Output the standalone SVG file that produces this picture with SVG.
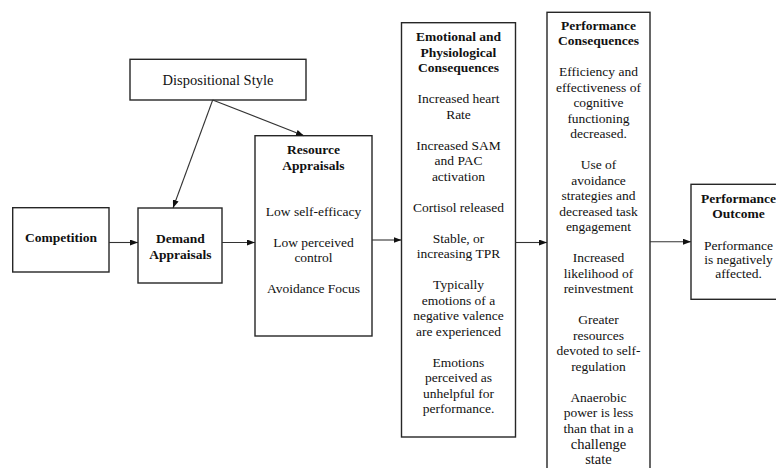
<svg xmlns="http://www.w3.org/2000/svg" width="776" height="468" viewBox="0 0 776 468">
  <style>
    .box { fill: #ffffff; stroke: #262626; stroke-width: 1.4; }
    .t { font-family: "Liberation Serif", "Times New Roman", serif; font-size: 13.5px; fill: #111; text-anchor: middle; }
    .b { font-weight: bold; }
    .big { font-size: 14.5px; }
    .edge { stroke: #333; stroke-width: 1.1; fill: none; marker-end: url(#head); }
  </style>
  <defs>
    <marker id="head" markerUnits="userSpaceOnUse" markerWidth="8" markerHeight="6" refX="8" refY="3" orient="auto">
      <path d="M0,0 L8,3 L0,6 Z" fill="#111"/>
    </marker>
  </defs>
  <rect width="776" height="468" fill="#ffffff"/>

  <g id="dispositional-style">
    <rect class="box" x="130" y="59.3" width="176" height="40.7"/>
    <text class="t big" x="218" y="84.5">Dispositional Style</text>
  </g>

  <g id="competition">
    <rect class="box" x="12.7" y="207.7" width="96.3" height="64.3"/>
    <text class="t b" x="61" y="241.5">Competition</text>
  </g>

  <g id="demand-appraisals">
    <rect class="box" x="138" y="208" width="84" height="75"/>
    <text class="t b" x="180.5" y="242.5">Demand</text>
    <text class="t b" x="180.5" y="258.5">Appraisals</text>
  </g>

  <g id="resource-appraisals">
    <rect class="box" x="255" y="135.7" width="117" height="200.3"/>
    <text class="t b" x="313.5" y="153.5">Resource</text>
    <text class="t b" x="313.5" y="169.5">Appraisals</text>
    <text class="t" x="313.5" y="215.5">Low self-efficacy</text>
    <text class="t" x="313.5" y="246.5">Low perceived</text>
    <text class="t" x="313.5" y="262">control</text>
    <text class="t" x="313.5" y="293">Avoidance Focus</text>
  </g>

  <g id="emotional-physiological">
    <rect class="box" x="401.5" y="22.7" width="114" height="414.3"/>
    <text class="t b" x="458.5" y="41">Emotional and</text>
    <text class="t b" x="458.5" y="56.5">Physiological</text>
    <text class="t b" x="458.5" y="72">Consequences</text>
    <text class="t" x="458.5" y="103">Increased heart</text>
    <text class="t" x="458.5" y="118.5">Rate</text>
    <text class="t" x="458.5" y="149.5">Increased SAM</text>
    <text class="t" x="458.5" y="165">and PAC</text>
    <text class="t" x="458.5" y="180.5">activation</text>
    <text class="t" x="458.5" y="211.5">Cortisol released</text>
    <text class="t" x="458.5" y="242.5">Stable, or</text>
    <text class="t" x="458.5" y="258">increasing TPR</text>
    <text class="t" x="458.5" y="289">Typically</text>
    <text class="t" x="458.5" y="304.5">emotions of a</text>
    <text class="t" x="458.5" y="320">negative valence</text>
    <text class="t" x="458.5" y="335.5">are experienced</text>
    <text class="t" x="458.5" y="366.5">Emotions</text>
    <text class="t" x="458.5" y="382">perceived as</text>
    <text class="t" x="458.5" y="397.5">unhelpful for</text>
    <text class="t" x="458.5" y="413">performance.</text>
  </g>

  <g id="performance-consequences">
    <rect class="box" x="547" y="12.3" width="103" height="470"/>
    <text class="t b" x="598.5" y="29.5">Performance</text>
    <text class="t b" x="598.5" y="45">Consequences</text>
    <text class="t" x="598.5" y="76">Efficiency and</text>
    <text class="t" x="598.5" y="91.5">effectiveness of</text>
    <text class="t" x="598.5" y="107">cognitive</text>
    <text class="t" x="598.5" y="122.5">functioning</text>
    <text class="t" x="598.5" y="138">decreased.</text>
    <text class="t" x="598.5" y="169">Use of</text>
    <text class="t" x="598.5" y="184.5">avoidance</text>
    <text class="t" x="598.5" y="200">strategies and</text>
    <text class="t" x="598.5" y="215.5">decreased task</text>
    <text class="t" x="598.5" y="231">engagement</text>
    <text class="t" x="598.5" y="262">Increased</text>
    <text class="t" x="598.5" y="277.5">likelihood of</text>
    <text class="t" x="598.5" y="293">reinvestment</text>
    <text class="t" x="598.5" y="324">Greater</text>
    <text class="t" x="598.5" y="339.5">resources</text>
    <text class="t" x="598.5" y="355">devoted to self-</text>
    <text class="t" x="598.5" y="370.5">regulation</text>
    <text class="t" x="598.5" y="401.5">Anaerobic</text>
    <text class="t" x="598.5" y="417">power is less</text>
    <text class="t" x="598.5" y="432.5">than that in a</text>
    <text class="t big" x="598.5" y="448.5">challenge</text>
    <text class="t big" x="598.5" y="464">state</text>
  </g>

  <g id="performance-outcome">
    <rect class="box" x="691" y="184.3" width="96" height="115"/>
    <text class="t b" x="738.5" y="202.5">Performance</text>
    <text class="t b" x="738.5" y="217.5">Outcome</text>
    <text class="t" x="738.5" y="250">Performance</text>
    <text class="t" x="738.5" y="264">is negatively</text>
    <text class="t" x="738.5" y="278">affected.</text>
  </g>

  <g id="connectors">
    <line class="edge" x1="212.7" y1="100" x2="173" y2="208"/>
    <line class="edge" x1="212.7" y1="100" x2="304" y2="135.7"/>
    <line class="edge" x1="109" y1="242.5" x2="138" y2="242.5"/>
    <line class="edge" x1="222" y1="242.5" x2="255" y2="242.5"/>
    <line class="edge" x1="372" y1="240" x2="401.5" y2="240"/>
    <line class="edge" x1="515.5" y1="242.5" x2="547" y2="242.5"/>
    <line class="edge" x1="650" y1="241.7" x2="691" y2="241.7"/>
  </g>
</svg>
